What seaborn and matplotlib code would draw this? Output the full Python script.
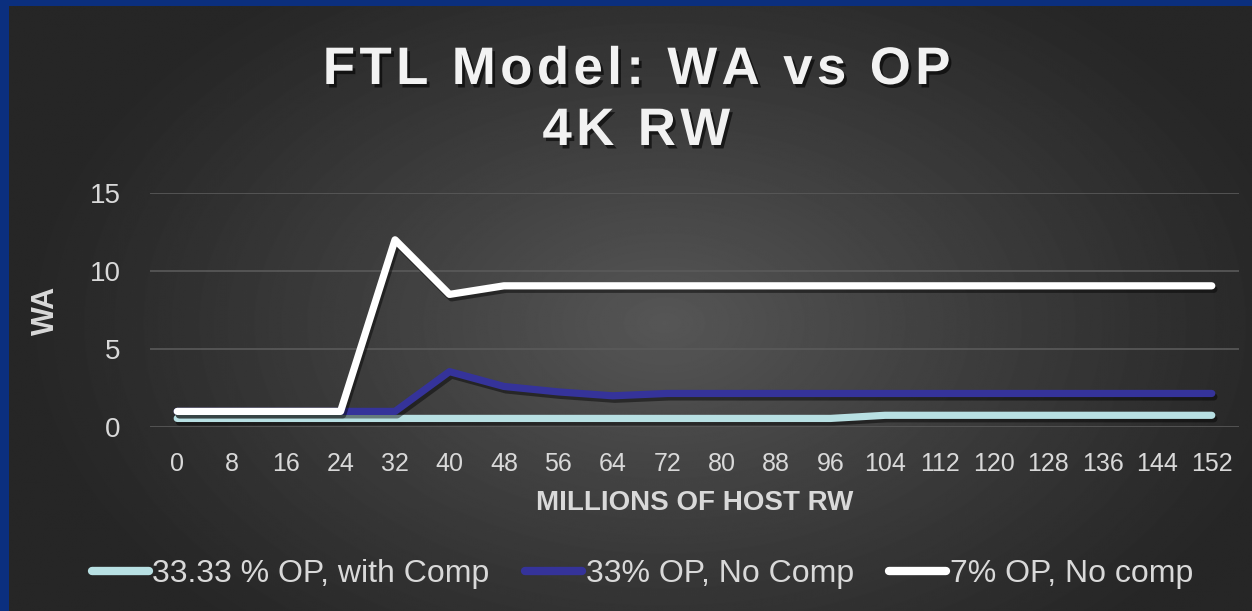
import numpy as np
import pandas as pd
import matplotlib
matplotlib.use("Agg")
import matplotlib.pyplot as plt
import matplotlib.patheffects as pe
from matplotlib.lines import Line2D
import seaborn as sns

# data
host_rw = [0, 8, 16, 24, 32, 40, 48, 56, 64, 72, 80, 88, 96, 104, 112, 120, 128, 136, 144, 152]
op33_comp = [0.55] * 13 + [0.75] * 7
op33_nocomp = [1.0, 1.0, 1.0, 1.0, 1.0, 3.55, 2.6, 2.25, 2.0, 2.15, 2.15, 2.15, 2.15, 2.15, 2.15, 2.15, 2.15, 2.15, 2.15, 2.15]
op7_nocomp = [1.0, 1.0, 1.0, 1.0, 12.0, 8.5, 9.05, 9.05, 9.05, 9.05, 9.05, 9.05, 9.05, 9.05, 9.05, 9.05, 9.05, 9.05, 9.05, 9.05]

series_names = ["33.33 % OP, with Comp", "33% OP, No Comp", "7% OP, No comp"]
colors = ["#b8e0e3", "#35339a", "#ffffff"]

df = pd.DataFrame({
    "rw": host_rw * 3,
    "wa": op33_comp + op33_nocomp + op7_nocomp,
    "series": [series_names[0]] * 20 + [series_names[1]] * 20 + [series_names[2]] * 20,
})

sns.set_style("white")
plt.rcParams["font.family"] = ["Liberation Sans", "DejaVu Sans"]

W, H = 1252, 611
fig = plt.figure(figsize=(W / 100, H / 100), dpi=100)
fig.patch.set_facecolor("#0b2f7e")

# dark radial gradient background (leaves blue strip on left/top)
bg = fig.add_axes([9 / W, 0, 1 - 9 / W, 1 - 6 / H], zorder=-5)
yy, xx = np.mgrid[0:H, 0:W]
r = np.sqrt(((xx - 660) / 650.0) ** 2 + ((yy - 320) / 420.0) ** 2)
v = 38 + 48 * np.clip(1 - r, 0, 1) ** 1.1
bg.imshow(v, cmap="gray", vmin=0, vmax=255, aspect="auto", interpolation="bilinear")
bg.axis("off")

ax = fig.add_axes([150 / W, 1 - 427 / H, (1239 - 150) / W, (427 - 193) / H])
ax.set_facecolor("none")

sns.lineplot(data=df, x="rw", y="wa", hue="series", palette=colors,
             hue_order=series_names, linewidth=5.2, legend=False, ax=ax)
for ln in ax.get_lines():
    ln.set_solid_capstyle("round")
    ln.set_solid_joinstyle("round")
    ln.set_path_effects([pe.SimpleLineShadow(offset=(1.5, -2.5), alpha=0.45, shadow_color="black"),
                         pe.Normal()])

ax.set_xlim(-4, 156)
ax.set_ylim(0, 15)
ax.set_xticks(host_rw)
ax.set_xticklabels([str(x) for x in host_rw])
ax.set_yticks([0, 5, 10, 15])
ax.grid(axis="y", color="#5a5a5a", linewidth=1.2)
ax.set_axisbelow(True)
for s in ax.spines.values():
    s.set_visible(False)
ax.tick_params(axis="both", length=0, colors="#d9d9d9")
ax.tick_params(axis="x", labelsize=18, pad=18)
ax.tick_params(axis="y", labelsize=20, pad=21)

ax.set_xlabel("MILLIONS OF HOST RW", fontsize=20, fontweight="bold", color="#d9d9d9", labelpad=10)
ax.set_ylabel("WA", fontsize=22, fontweight="bold", color="#d9d9d9", labelpad=21)

shadow = [pe.withSimplePatchShadow(offset=(2, -2.5), alpha=0.6, shadow_rgbFace="black")]
hair = "\u200a"
title1 = hair.join("FTL Model: WA vs OP")
title2 = hair.join("4K RW")
fig.text(0.508, 1 - 70 / H, title1, ha="center", va="center",
         fontsize=38, fontweight="bold", color="#f2f2f2", path_effects=shadow)
fig.text(0.508, 1 - 131 / H, title2, ha="center", va="center",
         fontsize=38, fontweight="bold", color="#f2f2f2", path_effects=shadow)

handles = [Line2D([0], [0], color=c, linewidth=6, solid_capstyle="round") for c in colors]
leg = fig.legend(handles, series_names, loc="center", bbox_to_anchor=(0.513, 1 - 574 / H),
                 ncol=3, frameon=False, fontsize=23, handlelength=1.8, handletextpad=0.1,
                 columnspacing=1.1)
for t in leg.get_texts():
    t.set_color("#d9d9d9")

fig.savefig("out.png", dpi=100, facecolor=fig.get_facecolor())
